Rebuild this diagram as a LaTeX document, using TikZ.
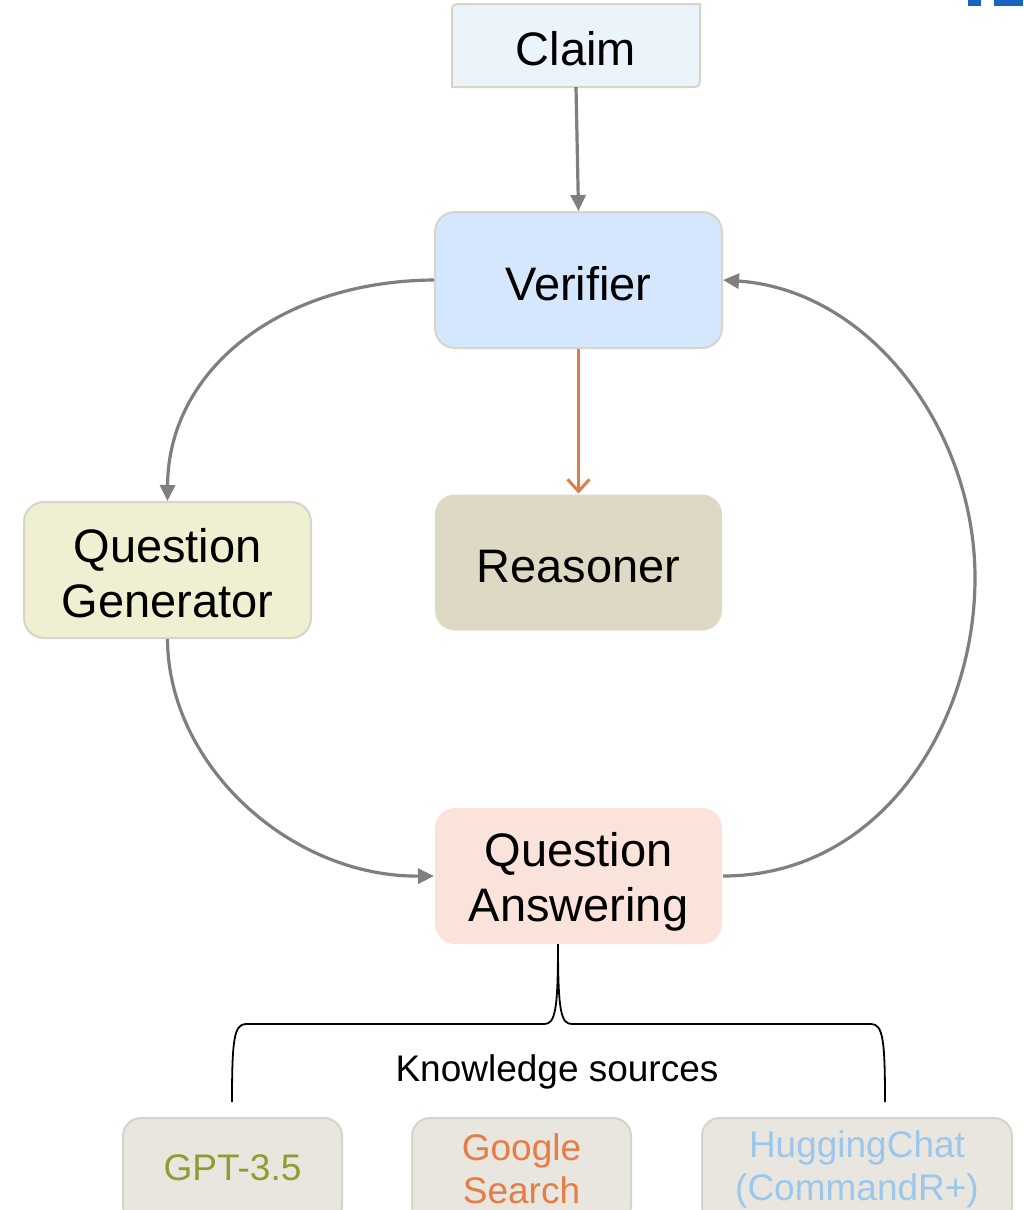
\documentclass[tikz,border=0pt]{standalone}
\usepackage{fontspec}
\setmainfont{Liberation Sans}
\usetikzlibrary{arrows.meta}

\definecolor{edgegray}{HTML}{7F7F7F}
\definecolor{boxline}{HTML}{D8D5C8}
\definecolor{claimfill}{HTML}{EAF4FA}
\definecolor{verfill}{HTML}{D4E7FC}
\definecolor{qgfill}{HTML}{EEF0D1}
\definecolor{reasfill}{HTML}{DDD9C4}
\definecolor{qafill}{HTML}{F9E3DA}
\definecolor{srcfill}{HTML}{E8E6DF}
\definecolor{srcline}{HTML}{D6D3C8}
\definecolor{orangeedge}{HTML}{E27D4B}
\definecolor{gptcol}{HTML}{8C9E30}
\definecolor{googlecol}{HTML}{E57D45}
\definecolor{hfcol}{HTML}{9CC7ED}
\definecolor{markblue}{HTML}{1565C0}

\tikzset{
  bigtext/.style={font=\fontsize{47}{55}\selectfont, align=center, inner sep=0},
  smalltext/.style={font=\fontsize{37}{43}\selectfont, align=center, inner sep=0},
  module/.style={rounded corners=20, minimum width=287, minimum height=136,
    inner sep=0, line width=2},
  source/.style={rounded corners=18, minimum height=106, inner sep=0,
    fill=srcfill, draw=srcline, line width=2},
  flow/.style={draw=edgegray, line width=3.2pt,
    -{Triangle[length=16pt, width=15pt]}},
  brace/.style={draw=black, line width=1.8pt},
}

\begin{document}
\begin{tikzpicture}[x=1pt, y=-1pt]
  \clip (0,0) rectangle (1023,1210);
  \fill[white] (0,0) rectangle (1023,1210);

  % partial mark in the top right corner
  \fill[markblue] (968,0) rectangle (981,6);
  \fill[markblue] (994,0) rectangle (1023,6);

  % Claim box: rounded top-left and bottom-right corners only
  \filldraw[fill=claimfill, draw=boxline, line width=2]
    (452,87) -- (452,15) .. controls (452,4) .. (463,4) -- (700,4)
    -- (700,76) .. controls (700,87) .. (689,87) -- cycle;
  \node[inner sep=0, minimum width=248, minimum height=83] (claim) at (576,45.5) {};
  \node[bigtext] (claimtext) at ([yshift=-3.5pt]claim.center) {Claim};

  % main modules
  \node[module, fill=verfill, draw=boxline] (verifier) at (578.5,280) {};
  \node[module, fill=qgfill, draw=boxline] (qg) at (167.5,570) {};
  \node[module, fill=reasfill] (reasoner) at (578.5,562.5) {};
  \node[module, fill=qafill] (qa) at (578.5,876) {};
  \node[bigtext] (vertext) at ([yshift=-4pt]verifier.center) {Verifier};
  \node[bigtext] (qgtext) at ([yshift=-3pt]qg.center) {Question\\Generator};
  \node[bigtext] (reastext) at ([yshift=-4pt]reasoner.center) {Reasoner};
  \node[bigtext] (qatext) at ([yshift=-6pt]qa.center) {Question\\Answering};

  % connectors
  \draw[flow] (claim.south) -- (verifier.north);
  \draw[flow] (verifier.west) .. controls (280,281) and (168,370) .. (qg.north);
  \draw[flow] (qg.south) .. controls (168,765) and (290,877) .. (qa.west);
  \draw[flow] (qa.east) .. controls (880,876) and (975,725) .. (975,578)
    .. controls (975,430) and (870,290) .. (verifier.east);
  \draw[draw=orangeedge, line width=3.2pt,
        -{Straight Barb[length=12pt, width=22pt, line width=3pt]}]
    (verifier.south) -- (reasoner.north);

  % brace grouping the knowledge sources
  \coordinate (tip) at (558,944);
  \coordinate (bl) at (232,1102);
  \coordinate (br) at (885,1102);
  \draw[brace] (tip) .. controls (558,1012) and (555,1024) .. (544,1024) -- (246,1024)
    .. controls (234,1024) and (232,1040) .. (bl);
  \draw[brace] (tip) .. controls (558,1012) and (561,1024) .. (572,1024) -- (871,1024)
    .. controls (883,1024) and (885,1040) .. (br);
  \node[smalltext] (ks) at (557,1072) {Knowledge sources};

  % knowledge sources
  \node[source, minimum width=219] (gpt) at (232.5,1171) {};
  \node[source, minimum width=219] (google) at (521.5,1171) {};
  \node[source, minimum width=310] (hf) at (857,1171) {};
  \node[smalltext, text=gptcol] (gpttext) at ([yshift=3pt]gpt.center) {GPT-3.5};
  \node[smalltext, text=googlecol] (googletext) at ([yshift=2pt]google.center) {Google\\Search};
  \node[smalltext, text=hfcol] (hftext) at ([yshift=2pt]hf.center) {HuggingChat\\(CommandR+)};
\end{tikzpicture}
\end{document}
